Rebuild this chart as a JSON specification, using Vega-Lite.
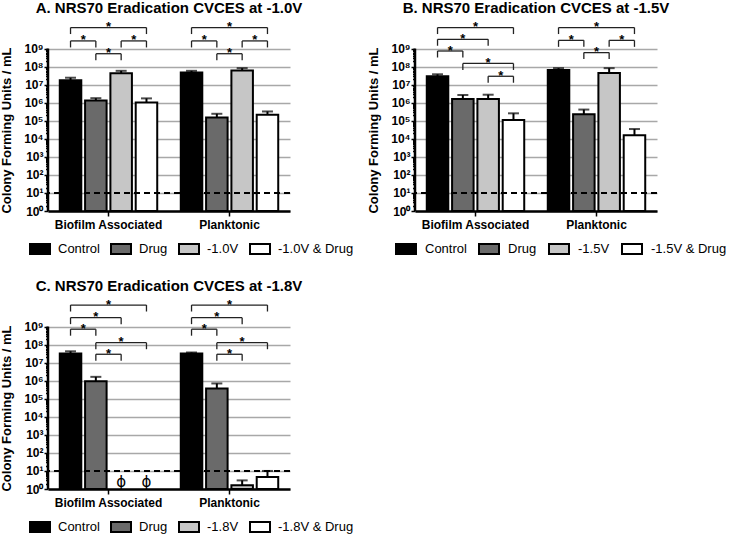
{
  "$schema": "https://vega.github.io/schema/vega-lite/v6.json",
  "background": "white",
  "padding": {"left": 0, "top": 1, "right": 0, "bottom": 0},
  "config": {
    "view": {"stroke": null},
    "font": "Liberation Sans",
    "title": {"font": "Liberation Sans", "fontSize": 15, "fontWeight": "bold", "color": "black", "anchor": "middle", "frame": "group", "offset": 2},
    "axisX": {"domainColor": "black", "domainWidth": 2.5, "tickColor": "black", "tickWidth": 1.5, "tickSize": 5, "labelFont": "Liberation Sans", "labelFontWeight": "bold", "labelFontSize": 12, "labelColor": "black", "labelPadding": 3, "labelAngle": 0, "grid": false},
    "axisY": {"domain": false, "tickColor": "black", "tickWidth": 1.5, "labelFont": "Liberation Sans", "labelFontWeight": "bold", "labelFontSize": 12, "labelColor": "black", "labelPadding": 1, "gridColor": "#a8a8a8", "gridWidth": 1.5, "titleFont": "Liberation Sans", "titleFontSize": 13, "titleFontWeight": "bold", "titleColor": "black", "titleY": 112, "titlePadding": 10, "labelOverlap": false, "labelFlush": false}
  },
  "datasets": {
    "barsA": [
      {"group": "Biofilm Associated", "cond": "Control", "cfu": 1.8e7, "upper": 2.45e7},
      {"group": "Biofilm Associated", "cond": "Drug", "cfu": 1.35e6, "upper": 1.8e6},
      {"group": "Biofilm Associated", "cond": "-1.0V", "cfu": 4.4e7, "upper": 5.9e7},
      {"group": "Biofilm Associated", "cond": "-1.0V & Drug", "cfu": 1.05e6, "upper": 1.75e6},
      {"group": "Planktonic", "cond": "Control", "cfu": 4.7e7, "upper": 5.9e7},
      {"group": "Planktonic", "cond": "Drug", "cfu": 1.55e5, "upper": 2.45e5},
      {"group": "Planktonic", "cond": "-1.0V", "cfu": 6.2e7, "upper": 8.3e7},
      {"group": "Planktonic", "cond": "-1.0V & Drug", "cfu": 2.2e5, "upper": 3.3e5}
    ],
    "barsB": [
      {"group": "Biofilm Associated", "cond": "Control", "cfu": 2.95e7, "upper": 3.8e7},
      {"group": "Biofilm Associated", "cond": "Drug", "cfu": 1.6e6, "upper": 2.7e6},
      {"group": "Biofilm Associated", "cond": "-1.5V", "cfu": 1.6e6, "upper": 2.8e6},
      {"group": "Biofilm Associated", "cond": "-1.5V & Drug", "cfu": 1.1e5, "upper": 2.6e5},
      {"group": "Planktonic", "cond": "Control", "cfu": 6.6e7, "upper": 8.3e7},
      {"group": "Planktonic", "cond": "Drug", "cfu": 2.3e5, "upper": 4.2e5},
      {"group": "Planktonic", "cond": "-1.5V", "cfu": 4.5e7, "upper": 8.3e7},
      {"group": "Planktonic", "cond": "-1.5V & Drug", "cfu": 1.6e4, "upper": 3.5e4}
    ],
    "barsC": [
      {"group": "Biofilm Associated", "cond": "Control", "cfu": 3.3e7, "upper": 4.3e7},
      {"group": "Biofilm Associated", "cond": "Drug", "cfu": 9.5e5, "upper": 1.65e6},
      {"group": "Planktonic", "cond": "Control", "cfu": 3.2e7, "upper": 3.7e7},
      {"group": "Planktonic", "cond": "Drug", "cfu": 3.7e5, "upper": 7.1e5},
      {"group": "Planktonic", "cond": "-1.8V", "cfu": 1.6, "upper": 3.0},
      {"group": "Planktonic", "cond": "-1.8V & Drug", "cfu": 4.7, "upper": 10}
    ],
    "notesC": [
      {"group": "Biofilm Associated", "cond": "-1.8V", "at": 2.6, "label": "ϕ"},
      {"group": "Biofilm Associated", "cond": "-1.8V & Drug", "at": 2.6, "label": "ϕ"}
    ],
    "brA": [
      {"id": 1, "group": "Biofilm Associated", "from": "Control", "to": "-1.0V & Drug", "top": 1.48e10, "low": 6.46e9, "span": 3},
      {"id": 2, "group": "Biofilm Associated", "from": "Control", "to": "Drug", "top": 2.69e9, "low": 1.17e9, "span": 1},
      {"id": 3, "group": "Biofilm Associated", "from": "-1.0V", "to": "-1.0V & Drug", "top": 2.69e9, "low": 1.17e9, "span": 1},
      {"id": 4, "group": "Biofilm Associated", "from": "Drug", "to": "-1.0V", "top": 5.25e8, "low": 2.29e8, "span": 1},
      {"id": 5, "group": "Planktonic", "from": "Control", "to": "-1.0V & Drug", "top": 1.48e10, "low": 6.46e9, "span": 3},
      {"id": 6, "group": "Planktonic", "from": "Control", "to": "Drug", "top": 2.69e9, "low": 1.17e9, "span": 1},
      {"id": 7, "group": "Planktonic", "from": "-1.0V", "to": "-1.0V & Drug", "top": 2.69e9, "low": 1.17e9, "span": 1},
      {"id": 8, "group": "Planktonic", "from": "Drug", "to": "-1.0V", "top": 5.25e8, "low": 2.29e8, "span": 1}
    ],
    "brB": [
      {"id": 1, "group": "Biofilm Associated", "from": "Control", "to": "-1.5V & Drug", "top": 1.48e10, "low": 6.46e9, "span": 3},
      {"id": 2, "group": "Biofilm Associated", "from": "Control", "to": "-1.5V", "top": 3.31e9, "low": 1.45e9, "span": 2},
      {"id": 3, "group": "Biofilm Associated", "from": "Control", "to": "Drug", "top": 7.41e8, "low": 3.24e8, "span": 1},
      {"id": 4, "group": "Biofilm Associated", "from": "Drug", "to": "-1.5V & Drug", "top": 1.51e8, "low": 6.61e7, "span": 2},
      {"id": 5, "group": "Biofilm Associated", "from": "-1.5V", "to": "-1.5V & Drug", "top": 2.95e7, "low": 1.29e7, "span": 1},
      {"id": 6, "group": "Planktonic", "from": "Control", "to": "-1.5V & Drug", "top": 1.48e10, "low": 6.46e9, "span": 3},
      {"id": 7, "group": "Planktonic", "from": "Control", "to": "Drug", "top": 2.88e9, "low": 1.26e9, "span": 1},
      {"id": 8, "group": "Planktonic", "from": "-1.5V", "to": "-1.5V & Drug", "top": 2.88e9, "low": 1.26e9, "span": 1},
      {"id": 9, "group": "Planktonic", "from": "Drug", "to": "-1.5V", "top": 6.03e8, "low": 2.63e8, "span": 1}
    ],
    "brC": [
      {"id": 1, "group": "Biofilm Associated", "from": "Control", "to": "-1.8V & Drug", "top": 1.58e10, "low": 6.92e9, "span": 3},
      {"id": 2, "group": "Biofilm Associated", "from": "Control", "to": "-1.8V", "top": 3.16e9, "low": 1.38e9, "span": 2},
      {"id": 3, "group": "Biofilm Associated", "from": "Control", "to": "Drug", "top": 7.24e8, "low": 3.16e8, "span": 1},
      {"id": 4, "group": "Biofilm Associated", "from": "Drug", "to": "-1.8V & Drug", "top": 1.29e8, "low": 5.62e7, "span": 2},
      {"id": 5, "group": "Biofilm Associated", "from": "Drug", "to": "-1.8V", "top": 2.95e7, "low": 1.29e7, "span": 1},
      {"id": 6, "group": "Planktonic", "from": "Control", "to": "-1.8V & Drug", "top": 1.58e10, "low": 6.92e9, "span": 3},
      {"id": 7, "group": "Planktonic", "from": "Control", "to": "-1.8V", "top": 3.16e9, "low": 1.38e9, "span": 2},
      {"id": 8, "group": "Planktonic", "from": "Control", "to": "Drug", "top": 7.24e8, "low": 3.16e8, "span": 1},
      {"id": 9, "group": "Planktonic", "from": "Drug", "to": "-1.8V & Drug", "top": 1.29e8, "low": 5.62e7, "span": 2},
      {"id": 10, "group": "Planktonic", "from": "Drug", "to": "-1.8V", "top": 2.95e7, "low": 1.29e7, "span": 1}
    ],
    "limit": [{"limit": 10}]
  },
  "columns": 2,
  "spacing": {"row": 85, "column": 125},
  "bounds": "flush",
  "resolve": {"scale": {"color": "independent", "xOffset": "independent", "x": "independent", "y": "independent"}, "legend": {"color": "independent"}},
  "concat": [
    {
      "width": 242, "height": 193,
      "title": {"text": "A. NRS70 Eradication CVCES at -1.0V"},
      "layer": [
        {"data": {"name": "barsA"}, "mark": {"type": "bar", "stroke": "black", "strokeWidth": 2},
         "encoding": {
           "x": {"field": "group", "type": "nominal", "title": null, "scale": {"domain": ["Biofilm Associated", "Planktonic"], "paddingInner": 0, "paddingOuter": 0}},
           "xOffset": {"field": "cond", "type": "nominal", "scale": {"domain": ["Control", "Drug", "-1.0V", "-1.0V & Drug"], "paddingInner": 0.15, "paddingOuter": 0.465}},
           "y": {"field": "cfu", "type": "quantitative", "title": "Colony Forming Units / mL", "scale": {"type": "log", "domain": [1, 5.01e10], "nice": false},
             "axis": {"values": [1,2,3,4,5,6,7,8,9,10,20,30,40,50,60,70,80,90,100,200,300,400,500,600,700,800,900,1000,2000,3000,4000,5000,6000,7000,8000,9000,1e4,2e4,3e4,4e4,5e4,6e4,7e4,8e4,9e4,1e5,2e5,3e5,4e5,5e5,6e5,7e5,8e5,9e5,1e6,2e6,3e6,4e6,5e6,6e6,7e6,8e6,9e6,1e7,2e7,3e7,4e7,5e7,6e7,7e7,8e7,9e7,1e8,2e8,3e8,4e8,5e8,6e8,7e8,8e8,9e8,1e9],
               "labelExpr": "abs(log(datum.value)/LN10 - round(log(datum.value)/LN10)) < 0.01 ? '10' + ['⁰','¹','²','³','⁴','⁵','⁶','⁷','⁸','⁹'][round(log(datum.value)/LN10)] : ''",
               "tickSize": {"condition": {"test": "abs(log(datum.value)/LN10 - round(log(datum.value)/LN10)) < 0.01", "value": 4}, "value": 2.5},
               "gridOpacity": {"condition": {"test": "abs(log(datum.value)/LN10 - round(log(datum.value)/LN10)) < 0.01", "value": 1}, "value": 0}}},
           "y2": {"datum": 1},
           "color": {"field": "cond", "type": "nominal", "scale": {"domain": ["Control", "Drug", "-1.0V", "-1.0V & Drug"], "range": ["#000000", "#6a6a6a", "#c6c6c6", "#ffffff"]},
             "legend": {"title": null, "orient": "none", "legendX": -19, "legendY": 220, "direction": "horizontal", "columns": 4, "symbolType": "M-1,-0.5H1V0.5H-1Z", "symbolSize": 400, "symbolStrokeColor": "black", "symbolStrokeWidth": 2, "symbolOpacity": 1, "labelFont": "Liberation Sans", "labelFontSize": 13, "labelColor": "black", "labelOffset": 7, "columnPadding": 7}}
         }},
        {"data": {"name": "barsA"}, "mark": {"type": "rule", "strokeWidth": 2, "color": "black"},
         "encoding": {"x": {"field": "group", "type": "nominal"}, "xOffset": {"field": "cond", "type": "nominal", "scale": {"domain": ["Control", "Drug", "-1.0V", "-1.0V & Drug"]}}, "y": {"field": "cfu", "type": "quantitative"}, "y2": {"field": "upper"}}},
        {"data": {"name": "barsA"}, "mark": {"type": "tick", "thickness": 2, "size": 11, "color": "black"},
         "encoding": {"x": {"field": "group", "type": "nominal"}, "xOffset": {"field": "cond", "type": "nominal", "scale": {"domain": ["Control", "Drug", "-1.0V", "-1.0V & Drug"]}}, "y": {"field": "upper", "type": "quantitative"}}},
        {"data": {"name": "brA"}, "transform": [{"fold": ["from", "to"], "as": ["end", "cond"]}], "mark": {"type": "line", "strokeWidth": 1.3, "color": "#222222"},
         "encoding": {"x": {"field": "group", "type": "nominal"}, "xOffset": {"field": "cond", "type": "nominal", "scale": {"domain": ["Control", "Drug", "-1.0V", "-1.0V & Drug"]}}, "y": {"field": "top", "type": "quantitative"}, "detail": {"field": "id", "type": "nominal"}, "order": {"field": "end"}}},
        {"data": {"name": "brA"}, "transform": [{"fold": ["from", "to"], "as": ["end", "cond"]}], "mark": {"type": "rule", "strokeWidth": 1.3, "color": "#222222"},
         "encoding": {"x": {"field": "group", "type": "nominal"}, "xOffset": {"field": "cond", "type": "nominal", "scale": {"domain": ["Control", "Drug", "-1.0V", "-1.0V & Drug"]}}, "y": {"field": "top", "type": "quantitative"}, "y2": {"field": "low"}}},
        {"data": {"name": "brA"}, "transform": [{"filter": "datum.span == 1"}], "mark": {"type": "text", "text": "*", "dx": 12.65, "dy": 3.5, "fontSize": 13, "fontWeight": "bold", "baseline": "alphabetic", "align": "center", "color": "black"},
         "encoding": {"x": {"field": "group", "type": "nominal"}, "xOffset": {"field": "from", "type": "nominal", "scale": {"domain": ["Control", "Drug", "-1.0V", "-1.0V & Drug"]}}, "y": {"field": "top", "type": "quantitative"}}},
        {"data": {"name": "brA"}, "transform": [{"filter": "datum.span == 3"}], "mark": {"type": "text", "text": "*", "dx": 37.95, "dy": 3.5, "fontSize": 13, "fontWeight": "bold", "baseline": "alphabetic", "align": "center", "color": "black"},
         "encoding": {"x": {"field": "group", "type": "nominal"}, "xOffset": {"field": "from", "type": "nominal", "scale": {"domain": ["Control", "Drug", "-1.0V", "-1.0V & Drug"]}}, "y": {"field": "top", "type": "quantitative"}}},
        {"data": {"name": "limit"}, "mark": {"type": "rule", "strokeDash": [6, 4], "strokeWidth": 2, "color": "black"},
         "encoding": {"y": {"field": "limit", "type": "quantitative"}}},
        {"data": {"name": "limit"}, "mark": {"type": "rule", "strokeWidth": 2.5, "color": "black"},
         "encoding": {"x": {"datum": "Biofilm Associated", "type": "nominal", "bandPosition": 0}, "y": {"datum": 1, "type": "quantitative"}, "y2": {"datum": 1e9}}}
      ]
    },
    {
      "width": 242, "height": 193,
      "title": {"text": "B. NRS70 Eradication CVCES at -1.5V"},
      "layer": [
        {"data": {"name": "barsB"}, "mark": {"type": "bar", "stroke": "black", "strokeWidth": 2},
         "encoding": {
           "x": {"field": "group", "type": "nominal", "title": null, "scale": {"domain": ["Biofilm Associated", "Planktonic"], "paddingInner": 0, "paddingOuter": 0}},
           "xOffset": {"field": "cond", "type": "nominal", "scale": {"domain": ["Control", "Drug", "-1.5V", "-1.5V & Drug"], "paddingInner": 0.15, "paddingOuter": 0.465}},
           "y": {"field": "cfu", "type": "quantitative", "title": "Colony Forming Units / mL", "scale": {"type": "log", "domain": [1, 5.01e10], "nice": false},
             "axis": {"values": [1,2,3,4,5,6,7,8,9,10,20,30,40,50,60,70,80,90,100,200,300,400,500,600,700,800,900,1000,2000,3000,4000,5000,6000,7000,8000,9000,1e4,2e4,3e4,4e4,5e4,6e4,7e4,8e4,9e4,1e5,2e5,3e5,4e5,5e5,6e5,7e5,8e5,9e5,1e6,2e6,3e6,4e6,5e6,6e6,7e6,8e6,9e6,1e7,2e7,3e7,4e7,5e7,6e7,7e7,8e7,9e7,1e8,2e8,3e8,4e8,5e8,6e8,7e8,8e8,9e8,1e9],
               "labelExpr": "abs(log(datum.value)/LN10 - round(log(datum.value)/LN10)) < 0.01 ? '10' + ['⁰','¹','²','³','⁴','⁵','⁶','⁷','⁸','⁹'][round(log(datum.value)/LN10)] : ''",
               "tickSize": {"condition": {"test": "abs(log(datum.value)/LN10 - round(log(datum.value)/LN10)) < 0.01", "value": 4}, "value": 2.5},
               "gridOpacity": {"condition": {"test": "abs(log(datum.value)/LN10 - round(log(datum.value)/LN10)) < 0.01", "value": 1}, "value": 0}}},
           "y2": {"datum": 1},
           "color": {"field": "cond", "type": "nominal", "scale": {"domain": ["Control", "Drug", "-1.5V", "-1.5V & Drug"], "range": ["#000000", "#6a6a6a", "#c6c6c6", "#ffffff"]},
             "legend": {"title": null, "orient": "none", "legendX": -20, "legendY": 220, "direction": "horizontal", "columns": 4, "symbolType": "M-1,-0.5H1V0.5H-1Z", "symbolSize": 400, "symbolStrokeColor": "black", "symbolStrokeWidth": 2, "symbolOpacity": 1, "labelFont": "Liberation Sans", "labelFontSize": 13, "labelColor": "black", "labelOffset": 8, "columnPadding": 8}}
         }},
        {"data": {"name": "barsB"}, "mark": {"type": "rule", "strokeWidth": 2, "color": "black"},
         "encoding": {"x": {"field": "group", "type": "nominal"}, "xOffset": {"field": "cond", "type": "nominal", "scale": {"domain": ["Control", "Drug", "-1.5V", "-1.5V & Drug"]}}, "y": {"field": "cfu", "type": "quantitative"}, "y2": {"field": "upper"}}},
        {"data": {"name": "barsB"}, "mark": {"type": "tick", "thickness": 2, "size": 11, "color": "black"},
         "encoding": {"x": {"field": "group", "type": "nominal"}, "xOffset": {"field": "cond", "type": "nominal", "scale": {"domain": ["Control", "Drug", "-1.5V", "-1.5V & Drug"]}}, "y": {"field": "upper", "type": "quantitative"}}},
        {"data": {"name": "brB"}, "transform": [{"fold": ["from", "to"], "as": ["end", "cond"]}], "mark": {"type": "line", "strokeWidth": 1.3, "color": "#222222"},
         "encoding": {"x": {"field": "group", "type": "nominal"}, "xOffset": {"field": "cond", "type": "nominal", "scale": {"domain": ["Control", "Drug", "-1.5V", "-1.5V & Drug"]}}, "y": {"field": "top", "type": "quantitative"}, "detail": {"field": "id", "type": "nominal"}, "order": {"field": "end"}}},
        {"data": {"name": "brB"}, "transform": [{"fold": ["from", "to"], "as": ["end", "cond"]}], "mark": {"type": "rule", "strokeWidth": 1.3, "color": "#222222"},
         "encoding": {"x": {"field": "group", "type": "nominal"}, "xOffset": {"field": "cond", "type": "nominal", "scale": {"domain": ["Control", "Drug", "-1.5V", "-1.5V & Drug"]}}, "y": {"field": "top", "type": "quantitative"}, "y2": {"field": "low"}}},
        {"data": {"name": "brB"}, "transform": [{"filter": "datum.span == 1"}], "mark": {"type": "text", "text": "*", "dx": 12.65, "dy": 3.5, "fontSize": 13, "fontWeight": "bold", "baseline": "alphabetic", "align": "center", "color": "black"},
         "encoding": {"x": {"field": "group", "type": "nominal"}, "xOffset": {"field": "from", "type": "nominal", "scale": {"domain": ["Control", "Drug", "-1.5V", "-1.5V & Drug"]}}, "y": {"field": "top", "type": "quantitative"}}},
        {"data": {"name": "brB"}, "transform": [{"filter": "datum.span == 2"}], "mark": {"type": "text", "text": "*", "dx": 25.3, "dy": 3.5, "fontSize": 13, "fontWeight": "bold", "baseline": "alphabetic", "align": "center", "color": "black"},
         "encoding": {"x": {"field": "group", "type": "nominal"}, "xOffset": {"field": "from", "type": "nominal", "scale": {"domain": ["Control", "Drug", "-1.5V", "-1.5V & Drug"]}}, "y": {"field": "top", "type": "quantitative"}}},
        {"data": {"name": "brB"}, "transform": [{"filter": "datum.span == 3"}], "mark": {"type": "text", "text": "*", "dx": 37.95, "dy": 3.5, "fontSize": 13, "fontWeight": "bold", "baseline": "alphabetic", "align": "center", "color": "black"},
         "encoding": {"x": {"field": "group", "type": "nominal"}, "xOffset": {"field": "from", "type": "nominal", "scale": {"domain": ["Control", "Drug", "-1.5V", "-1.5V & Drug"]}}, "y": {"field": "top", "type": "quantitative"}}},
        {"data": {"name": "limit"}, "mark": {"type": "rule", "strokeDash": [6, 4], "strokeWidth": 2, "color": "black"},
         "encoding": {"y": {"field": "limit", "type": "quantitative"}}},
        {"data": {"name": "limit"}, "mark": {"type": "rule", "strokeWidth": 2.5, "color": "black"},
         "encoding": {"x": {"datum": "Biofilm Associated", "type": "nominal", "bandPosition": 0}, "y": {"datum": 1, "type": "quantitative"}, "y2": {"datum": 1e9}}}
      ]
    },
    {
      "width": 242, "height": 193,
      "title": {"text": "C. NRS70 Eradication CVCES at -1.8V"},
      "layer": [
        {"data": {"name": "barsC"}, "mark": {"type": "bar", "stroke": "black", "strokeWidth": 2},
         "encoding": {
           "x": {"field": "group", "type": "nominal", "title": null, "scale": {"domain": ["Biofilm Associated", "Planktonic"], "paddingInner": 0, "paddingOuter": 0}},
           "xOffset": {"field": "cond", "type": "nominal", "scale": {"domain": ["Control", "Drug", "-1.8V", "-1.8V & Drug"], "paddingInner": 0.15, "paddingOuter": 0.465}},
           "y": {"field": "cfu", "type": "quantitative", "title": "Colony Forming Units / mL", "scale": {"type": "log", "domain": [1, 5.01e10], "nice": false},
             "axis": {"values": [1,2,3,4,5,6,7,8,9,10,20,30,40,50,60,70,80,90,100,200,300,400,500,600,700,800,900,1000,2000,3000,4000,5000,6000,7000,8000,9000,1e4,2e4,3e4,4e4,5e4,6e4,7e4,8e4,9e4,1e5,2e5,3e5,4e5,5e5,6e5,7e5,8e5,9e5,1e6,2e6,3e6,4e6,5e6,6e6,7e6,8e6,9e6,1e7,2e7,3e7,4e7,5e7,6e7,7e7,8e7,9e7,1e8,2e8,3e8,4e8,5e8,6e8,7e8,8e8,9e8,1e9],
               "labelExpr": "abs(log(datum.value)/LN10 - round(log(datum.value)/LN10)) < 0.01 ? '10' + ['⁰','¹','²','³','⁴','⁵','⁶','⁷','⁸','⁹'][round(log(datum.value)/LN10)] : ''",
               "tickSize": {"condition": {"test": "abs(log(datum.value)/LN10 - round(log(datum.value)/LN10)) < 0.01", "value": 4}, "value": 2.5},
               "gridOpacity": {"condition": {"test": "abs(log(datum.value)/LN10 - round(log(datum.value)/LN10)) < 0.01", "value": 1}, "value": 0}}},
           "y2": {"datum": 1},
           "color": {"field": "cond", "type": "nominal", "scale": {"domain": ["Control", "Drug", "-1.8V", "-1.8V & Drug"], "range": ["#000000", "#6a6a6a", "#c6c6c6", "#ffffff"]},
             "legend": {"title": null, "orient": "none", "legendX": -19, "legendY": 220, "direction": "horizontal", "columns": 4, "symbolType": "M-1,-0.5H1V0.5H-1Z", "symbolSize": 400, "symbolStrokeColor": "black", "symbolStrokeWidth": 2, "symbolOpacity": 1, "labelFont": "Liberation Sans", "labelFontSize": 13, "labelColor": "black", "labelOffset": 7, "columnPadding": 7}}
         }},
        {"data": {"name": "barsC"}, "mark": {"type": "rule", "strokeWidth": 2, "color": "black"},
         "encoding": {"x": {"field": "group", "type": "nominal"}, "xOffset": {"field": "cond", "type": "nominal", "scale": {"domain": ["Control", "Drug", "-1.8V", "-1.8V & Drug"]}}, "y": {"field": "cfu", "type": "quantitative"}, "y2": {"field": "upper"}}},
        {"data": {"name": "barsC"}, "mark": {"type": "tick", "thickness": 2, "size": 11, "color": "black"},
         "encoding": {"x": {"field": "group", "type": "nominal"}, "xOffset": {"field": "cond", "type": "nominal", "scale": {"domain": ["Control", "Drug", "-1.8V", "-1.8V & Drug"]}}, "y": {"field": "upper", "type": "quantitative"}}},
        {"data": {"name": "notesC"}, "mark": {"type": "text", "fontSize": 15, "baseline": "middle", "align": "center", "color": "black", "font": "DejaVu Sans"},
         "encoding": {"x": {"field": "group", "type": "nominal"}, "xOffset": {"field": "cond", "type": "nominal", "scale": {"domain": ["Control", "Drug", "-1.8V", "-1.8V & Drug"]}}, "y": {"field": "at", "type": "quantitative"}, "text": {"field": "label"}}},
        {"data": {"name": "brC"}, "transform": [{"fold": ["from", "to"], "as": ["end", "cond"]}], "mark": {"type": "line", "strokeWidth": 1.3, "color": "#222222"},
         "encoding": {"x": {"field": "group", "type": "nominal"}, "xOffset": {"field": "cond", "type": "nominal", "scale": {"domain": ["Control", "Drug", "-1.8V", "-1.8V & Drug"]}}, "y": {"field": "top", "type": "quantitative"}, "detail": {"field": "id", "type": "nominal"}, "order": {"field": "end"}}},
        {"data": {"name": "brC"}, "transform": [{"fold": ["from", "to"], "as": ["end", "cond"]}], "mark": {"type": "rule", "strokeWidth": 1.3, "color": "#222222"},
         "encoding": {"x": {"field": "group", "type": "nominal"}, "xOffset": {"field": "cond", "type": "nominal", "scale": {"domain": ["Control", "Drug", "-1.8V", "-1.8V & Drug"]}}, "y": {"field": "top", "type": "quantitative"}, "y2": {"field": "low"}}},
        {"data": {"name": "brC"}, "transform": [{"filter": "datum.span == 1"}], "mark": {"type": "text", "text": "*", "dx": 12.65, "dy": 3.5, "fontSize": 13, "fontWeight": "bold", "baseline": "alphabetic", "align": "center", "color": "black"},
         "encoding": {"x": {"field": "group", "type": "nominal"}, "xOffset": {"field": "from", "type": "nominal", "scale": {"domain": ["Control", "Drug", "-1.8V", "-1.8V & Drug"]}}, "y": {"field": "top", "type": "quantitative"}}},
        {"data": {"name": "brC"}, "transform": [{"filter": "datum.span == 2"}], "mark": {"type": "text", "text": "*", "dx": 25.3, "dy": 3.5, "fontSize": 13, "fontWeight": "bold", "baseline": "alphabetic", "align": "center", "color": "black"},
         "encoding": {"x": {"field": "group", "type": "nominal"}, "xOffset": {"field": "from", "type": "nominal", "scale": {"domain": ["Control", "Drug", "-1.8V", "-1.8V & Drug"]}}, "y": {"field": "top", "type": "quantitative"}}},
        {"data": {"name": "brC"}, "transform": [{"filter": "datum.span == 3"}], "mark": {"type": "text", "text": "*", "dx": 37.95, "dy": 3.5, "fontSize": 13, "fontWeight": "bold", "baseline": "alphabetic", "align": "center", "color": "black"},
         "encoding": {"x": {"field": "group", "type": "nominal"}, "xOffset": {"field": "from", "type": "nominal", "scale": {"domain": ["Control", "Drug", "-1.8V", "-1.8V & Drug"]}}, "y": {"field": "top", "type": "quantitative"}}},
        {"data": {"name": "limit"}, "mark": {"type": "rule", "strokeDash": [6, 4], "strokeWidth": 2, "color": "black"},
         "encoding": {"y": {"field": "limit", "type": "quantitative"}}},
        {"data": {"name": "limit"}, "mark": {"type": "rule", "strokeWidth": 2.5, "color": "black"},
         "encoding": {"x": {"datum": "Biofilm Associated", "type": "nominal", "bandPosition": 0}, "y": {"datum": 1, "type": "quantitative"}, "y2": {"datum": 1e9}}}
      ]
    }
  ]
}
